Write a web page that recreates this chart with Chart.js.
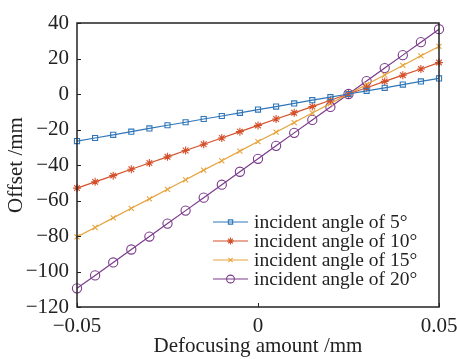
<!DOCTYPE html>
<html>
<head>
<meta charset="utf-8">
<script src="https://cdn.jsdelivr.net/npm/chart.js@4.4.1/dist/chart.umd.min.js"></script>
<style>
  html, body { margin: 0; padding: 0; background: #ffffff; }
  canvas { display: block; }
</style>
</head>
<body>
<canvas id="c" width="457" height="359"></canvas>
<script>
// Defocusing amount (mm)
const defocus = [-0.05, -0.045, -0.04, -0.035, -0.03, -0.025, -0.02, -0.015, -0.01, -0.005,
                 0, 0.005, 0.01, 0.015, 0.02, 0.025, 0.03, 0.035, 0.04, 0.045, 0.05];
// Offset (mm) per incident angle
const offset5  = [-26.5, -24.8, -23.0, -21.2, -19.4, -17.6, -15.9, -14.1, -12.4, -10.6,
                  -8.8, -7.1, -5.3, -3.5, -1.8, 0, 1.8, 3.5, 5.3, 7.1, 8.8];
const offset10 = [-53.0, -49.5, -46.0, -42.4, -38.9, -35.4, -31.8, -28.3, -24.8, -21.2,
                  -17.7, -14.1, -10.6, -7.1, -3.5, 0, 3.5, 7.1, 10.6, 14.1, 17.7];
const offset15 = [-80.5, -75.2, -69.8, -64.4, -59.1, -53.7, -48.3, -42.9, -37.6, -32.2,
                  -26.8, -21.5, -16.1, -10.7, -5.4, 0, 5.4, 10.7, 16.1, 21.5, 26.8];
const offset20 = [-109.5, -102.2, -94.9, -87.6, -80.3, -73.0, -65.7, -58.4, -51.1, -43.8,
                  -36.5, -29.2, -21.9, -14.6, -7.3, 0, 7.3, 14.6, 21.9, 29.2, 36.5];
const seriesNames = ['incident angle of 5°', 'incident angle of 10°', 'incident angle of 15°', 'incident angle of 20°'];
const xTicks = [-0.05, 0, 0.05];
const yTicks = [40, 20, 0, -20, -40, -60, -80, -100, -120];

const colors = ['#2f76b8', '#d4502a', '#e6a33a', '#7a3a8c'];
const styles = ['rect', 'star', 'crossRot', 'circle'];
const radii = [3.6, 4, 3.6, 4.6];
const SERIF = '"Liberation Serif", "DejaVu Serif", serif';

function pts(ys) { return defocus.map((x, i) => ({ x: x, y: ys[i] })); }
const allSeries = [offset5, offset10, offset15, offset20];

const datasets = allSeries.map((s, i) => ({
  label: seriesNames[i],
  data: pts(s),
  borderColor: colors[i],
  backgroundColor: 'rgba(0,0,0,0)',
  borderWidth: 1.2,
  pointStyle: styles[i],
  pointRadius: radii[i],
  pointBorderWidth: 1.1,
  pointBorderColor: colors[i],
  pointBackgroundColor: 'rgba(0,0,0,0)',
  clip: false,
  tension: 0
}));

function fmt(v) {
  const s = String(Number(Number(v).toFixed(3)));
  return s.replace('-', '\u2212');
}

const framePlugin = {
  id: 'frame',
  afterDatasetsDraw(chart) {
    const ctx = chart.ctx, a = chart.chartArea;
    const xs = chart.scales.x, ys = chart.scales.y;
    ctx.save();
    ctx.strokeStyle = '#222';
    ctx.lineWidth = 1;
    // inward ticks
    ctx.beginPath();
    yTicks.forEach(v => {
      const p = Math.round(ys.getPixelForValue(v)) + 0.5;
      ctx.moveTo(a.left, p); ctx.lineTo(a.left + 4, p);
    });
    xTicks.forEach(v => {
      const p = Math.round(xs.getPixelForValue(v)) + 0.5;
      ctx.moveTo(p, a.bottom); ctx.lineTo(p, a.bottom - 4);
    });
    ctx.stroke();
    ctx.lineWidth = 1.5;
    ctx.strokeRect(a.left, a.top, a.right - a.left, a.bottom - a.top);
    // legend
    const lx = a.right - 226, ly0 = a.bottom - 85, step = 19;
    ctx.font = '19.5px ' + SERIF;
    ctx.textBaseline = 'middle';
    ctx.textAlign = 'left';
    datasets.forEach((d, i) => {
      const y = ly0 + i * step;
      ctx.strokeStyle = d.borderColor;
      ctx.fillStyle = 'rgba(0,0,0,0)';
      ctx.lineWidth = 1.2;
      ctx.beginPath();
      ctx.moveTo(lx, y); ctx.lineTo(lx + 35, y);
      ctx.stroke();
      ctx.lineWidth = 1.1;
      Chart.helpers.drawPoint(ctx, {
        pointStyle: d.pointStyle, radius: d.pointRadius * 0.85, borderWidth: 1.1, rotation: 0
      }, lx + 17.5, y);
      ctx.fillStyle = '#222';
      ctx.fillText(d.label, lx + 41, y + 1);
    });
    ctx.restore();
  }
};

new Chart(document.getElementById('c'), {
  type: 'line',
  data: { datasets: datasets },
  options: {
    responsive: false,
    animation: false,
    devicePixelRatio: 1,
    layout: { padding: { top: 23, right: 18, left: 0, bottom: 0 } },
    plugins: { legend: { display: false }, tooltip: { enabled: false } },
    scales: {
      x: {
        type: 'linear',
        min: -0.05, max: 0.05,
        afterBuildTicks(scale) { scale.ticks = xTicks.map(v => ({ value: v })); },
        afterFit(scale) { scale.height = 52; scale.paddingLeft = 0; scale.paddingRight = 0; },
        grid: { display: false, drawTicks: false },
        border: { display: false },
        ticks: {
          color: '#222', padding: 7, maxRotation: 0, autoSkip: false,
          font: { family: SERIF, size: 21 },
          callback: v => fmt(v)
        },
        title: {
          display: true, text: 'Defocusing amount /mm', color: '#222',
          font: { family: SERIF, size: 21 }, padding: { top: 0, bottom: 0 }
        }
      },
      y: {
        min: -120, max: 40,
        afterBuildTicks(scale) { scale.ticks = yTicks.slice().reverse().map(v => ({ value: v })); },
        afterFit(scale) { scale.width = 77; scale.paddingTop = 0; scale.paddingBottom = 0; },
        grid: { display: false, drawTicks: false },
        border: { display: false },
        ticks: {
          color: '#222', padding: 8, autoSkip: false,
          font: { family: SERIF, size: 21 },
          callback: v => fmt(v)
        },
        title: {
          display: true, text: 'Offset /mm', color: '#222',
          font: { family: SERIF, size: 21 }, padding: { top: 4, bottom: 0 }
        }
      }
    }
  },
  plugins: [framePlugin]
});
</script>
</body>
</html>
